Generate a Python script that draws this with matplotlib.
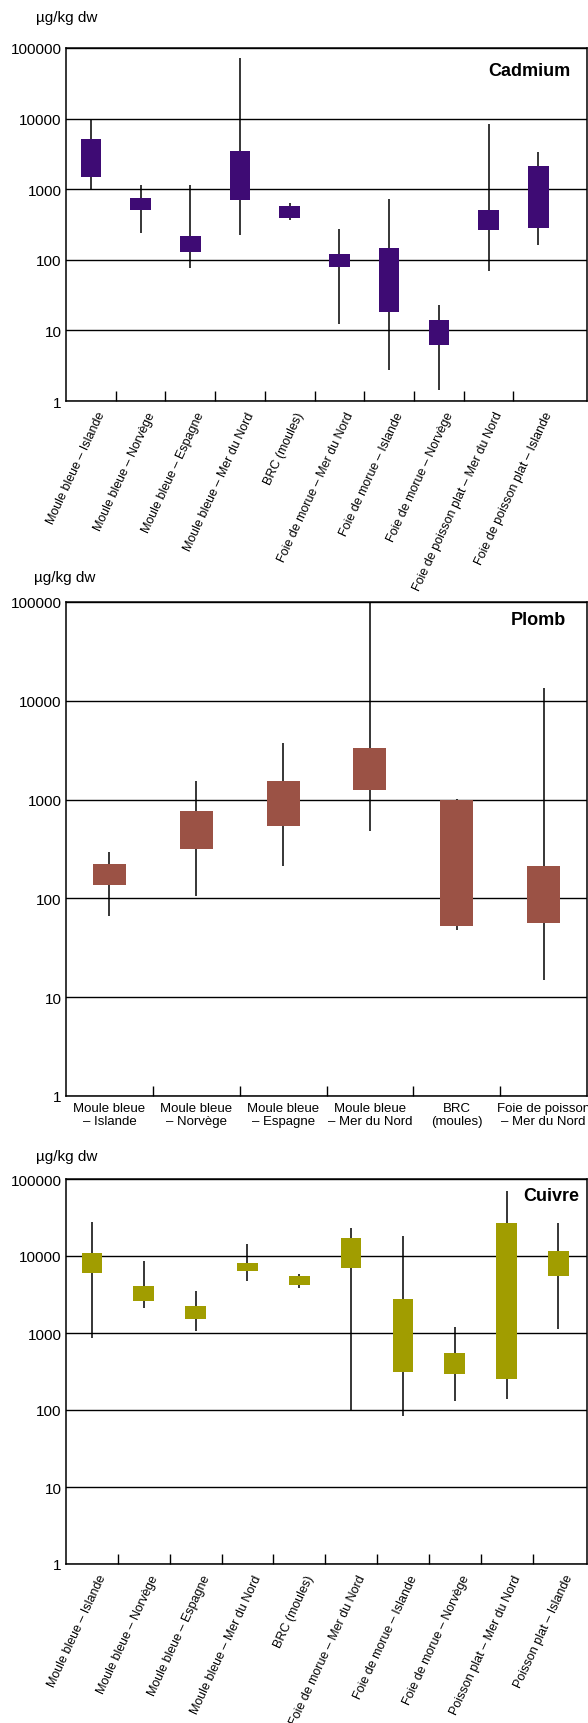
import matplotlib
matplotlib.use('Agg')
from matplotlib import pyplot as plt
from matplotlib.transforms import ScaledTranslation

plt.rcParams['font.family'] = ['Liberation Sans', 'DejaVu Sans']

# Cadmium
cd_labels = ['Moule bleue – Islande', 'Moule bleue – Norvège', 'Moule bleue – Espagne',
             'Moule bleue – Mer du Nord', 'BRC (moules)', 'Foie de morue – Mer du Nord',
             'Foie de morue – Islande', 'Foie de morue – Norvège',
             'Foie de poisson plat – Mer du Nord', 'Foie de poisson plat – Islande']
cd_min = [1000, 242, 76, 224, 363, 12.3, 2.76, 1.43, 70, 160]
cd_q1 = [1480, 500, 131, 700, 387, 80, 18.4, 6.25, 261, 279]
cd_q3 = [5200, 760, 220, 3430, 586, 122, 148, 14, 514, 2100]
cd_max = [9800, 1140, 1130, 72000, 640, 276, 736, 22.9, 8300, 3360]

# Plomb
pb_labels = ['Moule bleue\n– Islande', 'Moule bleue\n– Norvège', 'Moule bleue\n– Espagne',
             'Moule bleue\n– Mer du Nord', 'BRC\n(moules)', 'Foie de poisson\n– Mer du Nord']
pb_min = [66, 105, 212, 478, 48, 14.9]
pb_q1 = [136, 316, 537, 1240, 52, 57]
pb_q3 = [221, 773, 1550, 3350, 1000, 211]
pb_max = [296, 1540, 3730, 100000, 1010, 13600]

# Cuivre
cu_labels = ['Moule bleue – Islande', 'Moule bleue – Norvège', 'Moule bleue – Espagne',
             'Moule bleue – Mer du Nord', 'BRC (moules)', 'Foie de morue – Mer du Nord',
             'Foie de morue – Islande', 'Foie de morue – Norvège',
             'Poisson plat – Mer du Nord', 'Poisson plat – Islande']
cu_min = [850, 2120, 1056, 4780, 3800, 101, 83, 130, 139, 1140]
cu_q1 = [5940, 2600, 1530, 6480, 4150, 6910, 316, 296, 249, 5450]
cu_q3 = [10900, 4100, 2210, 8130, 5560, 17200, 2800, 550, 26900, 11600]
cu_max = [28000, 8600, 3490, 14300, 5810, 23100, 18200, 1200, 70600, 26600]

decades = [1, 10, 100, 1000, 10000, 100000]

W, H = 588, 1724
fig = plt.figure(figsize=(W / 100, H / 100), dpi=100)


def make_axes(top, bottom, left=66, right=587):
    return fig.add_axes([left / W, 1 - bottom / H, (right - left) / W, (bottom - top) / H])


def draw_panel(ax, lows, q1, q3, highs, color, title, xmax, box_w, title_pos):
    x = range(len(q1))
    ax.set_yscale('log')
    ax.set_ylim(1, 100000)
    ax.set_xlim(-0.5, xmax)
    for y in decades:
        ax.axhline(y, color='black', lw=1, zorder=1)
    ax.vlines(x, lows, highs, color='black', lw=1.1, zorder=2)
    ax.bar(x, [b - a for a, b in zip(q1, q3)], bottom=q1, width=box_w,
           color=color, zorder=3)
    ax.set_yticks(decades, [str(d) for d in decades])
    ax.minorticks_off()
    ax.tick_params(axis='y', length=0, pad=3, labelsize=11)
    ax.set_xticks([i + 0.5 for i in range(len(q1) - 1)], [])
    ax.tick_params(axis='x', which='major', direction='in', length=7, width=1)
    for s in ax.spines.values():
        s.set_linewidth(1.1)
    ax.text(title_pos[0], title_pos[1], title, transform=ax.transAxes,
            ha='right', va='center', fontsize=13, fontweight='bold')


def rotated_labels(ax, labels):
    off = ScaledTranslation(8 / 72, -8 / 72, fig.dpi_scale_trans)
    for i, lab in enumerate(labels):
        ax.text(i, 0, lab, transform=ax.get_xaxis_transform() + off,
                rotation=65, ha='right', va='center', rotation_mode='anchor',
                fontsize=9)


ax1 = make_axes(49, 402)
draw_panel(ax1, cd_min, cd_q1, cd_q3, cd_max, '#3e0b74', 'Cadmium', 9.98, 0.415, (0.969, 0.935))
rotated_labels(ax1, cd_labels)
fig.text(67 / W, 1 - 18 / H, 'µg/kg dw', ha='center', va='center', fontsize=11)

ax2 = make_axes(603, 1097)
draw_panel(ax2, pb_min, pb_q1, pb_q3, pb_max, '#9b5245', 'Plomb', 5.5, 0.38, (0.96, 0.965))
ax2.set_xticks(range(len(pb_labels)), pb_labels, minor=True)
ax2.tick_params(axis='x', which='minor', length=0, pad=4, labelsize=9.5)
fig.text(65 / W, 1 - 578 / H, 'µg/kg dw', ha='center', va='center', fontsize=11)

ax3 = make_axes(1180, 1565)
draw_panel(ax3, cu_min, cu_q1, cu_q3, cu_max, '#a19d00', 'Cuivre', 9.55, 0.4, (0.985, 0.958))
rotated_labels(ax3, cu_labels)
fig.text(67 / W, 1 - 1157 / H, 'µg/kg dw', ha='center', va='center', fontsize=11)

fig.savefig('out.png', dpi=100)
